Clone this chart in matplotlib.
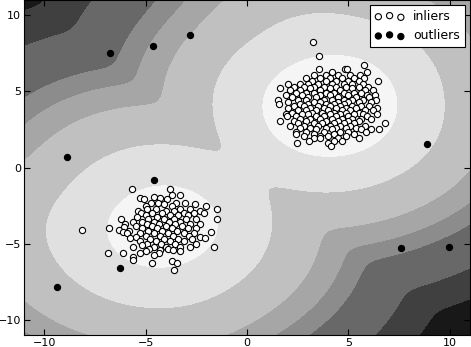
import numpy as np
import matplotlib
matplotlib.use("Agg")
import matplotlib.pyplot as plt

# inliers of the upper-right cluster (y, [x...])
rows_a = [
    (8.25, [3.24]), (7.35, [3.53]), (6.7, [5.75]), (6.5, [3.56, 4.84, 4.95]),
    (6.25, [4.2, 5.9]), (6.05, [3.3, 3.9, 4.5, 5.1, 5.55]),
    (5.85, [2.9, 3.6, 4.1, 4.7, 5.3, 5.75]), (5.7, [3.2, 3.9, 4.4, 5.0, 5.5, 6.48]),
    (5.5, [2.0, 2.6, 3.0, 3.5, 4.2, 4.8, 5.2, 5.7]),
    (5.3, [2.3, 2.8, 3.3, 3.8, 4.4, 4.9, 5.5, 5.95]), (5.2, [1.62, 3.1, 4.1, 5.2]),
    (5.1, [2.1, 2.6, 3.6, 4.6, 5.8, 6.2]),
    (4.9, [2.4, 2.9, 3.3, 3.9, 4.3, 4.8, 5.3, 5.6]),
    (4.75, [1.9, 2.7, 3.6, 4.1, 5.0, 5.9, 6.3]), (4.6, [2.2, 3.0, 3.4, 4.5, 5.4, 6.0]),
    (4.45, [1.52, 2.5, 2.9, 3.8, 4.2, 4.8, 5.2, 5.7, 6.35]),
    (4.3, [2.0, 3.3, 3.6, 4.5, 5.0, 5.5, 6.1]), (4.2, [1.56, 2.6, 3.0, 3.9, 4.3, 4.8]),
    (4.05, [2.3, 2.8, 3.5, 4.1, 4.6, 5.2, 5.6, 6.0]),
    (3.9, [2.0, 3.1, 3.8, 4.4, 4.9, 5.4, 6.43]),
    (3.75, [2.5, 2.9, 3.4, 4.0, 4.7, 5.1, 5.8, 6.2]), (3.6, [2.2, 3.2, 3.7, 4.3, 4.9, 5.5]),
    (3.5, [1.9, 2.7, 3.0, 4.1, 4.6, 5.3, 5.7, 6.4]),
    (3.35, [1.95, 2.4, 3.4, 3.8, 4.4, 5.0, 5.9]),
    (3.2, [2.6, 3.1, 3.6, 4.2, 4.7, 5.2, 5.6, 6.1]),
    (3.05, [1.65, 2.3, 2.9, 3.9, 4.5, 5.0, 5.5]),
    (2.9, [2.5, 3.3, 3.7, 4.3, 4.8, 5.3, 6.8]),
    (2.75, [2.1, 2.8, 3.5, 4.1, 4.6, 5.1, 5.8]), (2.6, [2.6, 3.1, 3.9, 4.4, 4.9, 5.4]),
    (2.5, [3.4, 4.2, 5.6, 6.1, 6.5]), (2.35, [2.4, 2.9, 3.8, 4.6, 5.0, 5.85]),
    (2.2, [2.4, 3.3, 4.3, 5.3]), (2.1, [2.8, 3.62, 4.0, 4.9]),
    (1.97, [3.3, 3.62, 4.5, 5.52]), (1.75, [3.05, 4.3, 4.7]), (1.6, [2.48, 4.0]),
    (1.42, [4.12]),
]

# inliers of the lower-left cluster
rows_b = [
    (-1.4, [-5.68, -3.79]), (-1.8, [-3.71, -3.3]), (-1.93, [-4.6]), (-2.0, [-5.28, -4.3]),
    (-2.1, [-5.1, -3.95]), (-2.3, [-4.75, -4.4, -3.05, -3.5]), (-2.4, [-2.55, -4.1]),
    (-2.5, [-2.03, -5.0, -3.7]), (-2.7, [-1.47, -4.92, -4.5, -3.3, -2.8]),
    (-2.85, [-5.4, -4.0, -3.6, -2.3]), (-3.0, [-5.25, -4.7, -4.2, -3.1, -2.63, -2.14]),
    (-3.15, [-5.0, -3.8, -3.4, -2.9]), (-3.24, [-5.45, -4.45]),
    (-3.4, [-1.5, -6.23, -4.9, -4.1, -3.6, -3.0, -2.5]),
    (-3.55, [-5.6, -5.2, -4.6, -3.85, -3.3]), (-3.7, [-6.0, -4.95, -4.35, -3.55, -2.8, -2.3]),
    (-3.85, [-5.5, -4.7, -4.0, -3.2]), (-3.9, [-6.06]),
    (-4.0, [-6.83, -5.2, -4.45, -3.7, -2.9, -2.5]), (-4.1, [-6.33, -8.15]),
    (-4.16, [-5.8, -4.9, -4.2, -3.45]), (-4.26, [-1.8, -6.1]),
    (-4.33, [-5.93, -5.3, -4.6, -3.9, -3.1, -2.6]), (-4.5, [-5.0, -4.3, -3.65, -2.85]),
    (-4.55, [-5.5, -2.3]), (-4.6, [-5.75, -2.07]), (-4.7, [-4.8, -4.1, -3.4, -2.7]),
    (-4.85, [-5.3, -4.5, -3.8, -3.1]), (-5.0, [-4.95, -4.25, -3.55, -2.5]), (-5.08, [-5.18]),
    (-5.2, [-5.63, -4.6, -4.0, -3.3, -2.8, -1.65]), (-5.35, [-4.85, -3.9]),
    (-5.45, [-3.63, -4.3]), (-5.5, [-3.3, -5.0]), (-5.6, [-4.35, -5.26, -6.14]),
    (-5.63, [-6.88]), (-5.74, [-4.6]), (-5.85, [-5.6]), (-6.07, [-5.6]),
    (-6.13, [-3.71]), (-6.28, [-3.46, -4.7]), (-6.7, [-3.6]),
]

outliers_x = [-4.66, -2.8, -6.78, -8.89, -4.61, 8.87, 7.59, 9.96, -6.24, -9.35]
outliers_y = [7.96, 8.71, 7.53, 0.72, -0.85, 1.57, -5.31, -5.25, -6.62, -7.86]

# points read on the band edges of the background, innermost band first
edge_f5 = [(0.82, 3.1), (1.48, 5.28), (2.63, 6.6), (3.6, 7.0), (7.08, 4.0), (3.95, 0.96),
           (-7.08, -4.1), (-0.99, -3.78), (-4.1, -0.72), (-3.95, -6.94)]
edge_e0 = [(-1.15, 3.1), (-0.33, 6.6), (1.15, 8.55), (2.6, 9.3), (8.4, 7.7), (9.1, 6.2),
           (9.38, 4.0), (9.05, 1.1), (7.9, -0.6), (6.2, -1.3), (-9.9, -4.8), (-9.05, -0.6),
           (-7.08, 0.9), (-4.8, 1.57), (1.65, -2.36), (1.3, -5.6), (-0.33, -7.8), (-4.0, -9.46)]
edge_c0 = [(-0.18, 11), (-2.15, 7.7), (-3.1, 6.4), (-3.6, 4.9), (-5.9, 4.6), (-8.7, 3.1),
           (-10.5, 2.0), (-11, -6.5), (-7.24, -11), (-0.18, -11), (2.6, -9.1), (3.62, -8.47),
           (4.44, -4.54), (4.28, -3.23), (7.9, -2.14), (10.06, -1.9), (8.9, -3.0)]
edge_a4 = [(-11, 3.75), (-8.5, 4.8), (-5.76, 5.93), (-3.3, 8.8)]
edge_8c = [(-11, 5.06), (-8.7, 6.4), (-7.1, 7.0), (-5.76, 7.25), (-3.46, 10.3),
           (6.58, -4.76), (6.58, -6.73), (5.1, -11), (11, -3.0)]
edge_68 = [(-11, 9.3), (-9.07, 9.1), (-7.1, 9.3), (-5.9, 11),
           (8.2, -6.7), (8.56, -9.3), (8.9, -11), (11, -5.4)]
edge_40 = [(10.2, -8.25), (11, -7.6), (10.4, -10.9)]

band_colors = ['#181818', '#404040', '#686868', '#8c8c8c', '#a6a6a6',
               '#c0c0c0', '#e0e0e0', '#f5f5f5']


def rows_to_xy(rows):
    return np.array([(x, y) for y, xs in rows for x in xs])


inl_a = rows_to_xy(rows_a)
inl_b = rows_to_xy(rows_b)
outl = np.column_stack([outliers_x, outliers_y])
inliers = np.vstack([inl_a, inl_b])
H = 1.5
TILT = 0.002


def score(q):
    # minus a soft-min distance to the inliers (gaussian kernel, width H),
    # a little darker towards the lower right
    q = np.atleast_2d(q)
    d2 = ((q[:, None, :] - inliers[None, :, :]) ** 2).sum(-1)
    m = d2.min(1)
    s = np.exp(-(d2 - m[:, None]) / (2 * H * H)).mean(1)
    dist = np.sqrt(m - 2 * H * H * np.log(s))
    return -dist * (1 + TILT * (q[:, 0] - q[:, 1]))


xx, yy = np.meshgrid(np.linspace(-11, 11, 300), np.linspace(-11, 11, 300))
Z = np.vstack([score(np.column_stack([xx[i], yy[i]])) for i in range(xx.shape[0])])

edges = [edge_40, edge_68, edge_8c, edge_a4, edge_c0, edge_e0, edge_f5]
cuts = sorted(np.mean(score(np.array(e))) for e in edges)
levels = [Z.min() - 1] + cuts + [Z.max() + 1]

plt.rcParams['font.family'] = 'DejaVu Sans'
plt.rcParams['font.size'] = 8

fig = plt.figure(figsize=(4.71, 3.47), dpi=100)
ax = fig.add_axes([24 / 471, 12 / 347, 446 / 471, 335 / 347])
ax.contourf(xx, yy, Z, levels=levels, colors=band_colors)
a = ax.scatter(inl_a[:, 0], inl_a[:, 1], c='white', edgecolors='k', s=20, linewidths=0.8)
ax.scatter(inl_b[:, 0], inl_b[:, 1], c='white', edgecolors='k', s=20, linewidths=0.8)
b = ax.scatter(outl[:, 0], outl[:, 1], c='black', edgecolors='k', s=20, linewidths=0.8)
ax.set_xlim(-11, 11)
ax.set_ylim(-11, 11)
ax.set_xticks([-10, -5, 0, 5, 10])
ax.set_yticks([-10, -5, 0, 5, 10])
ax.tick_params(direction='in', top=True, right=True, length=4, width=0.8, pad=2)
leg = ax.legend([a, b], ['inliers', 'outliers'], loc='upper right',
                bbox_to_anchor=(0.989, 0.985), borderaxespad=0, scatterpoints=3,
                fancybox=False, edgecolor='k', framealpha=1, fontsize=9,
                handlelength=2.4, handletextpad=0.7, borderpad=0.4, labelspacing=0.5)
leg.get_frame().set_linewidth(0.8)
fig.savefig('out.png', dpi=100)
